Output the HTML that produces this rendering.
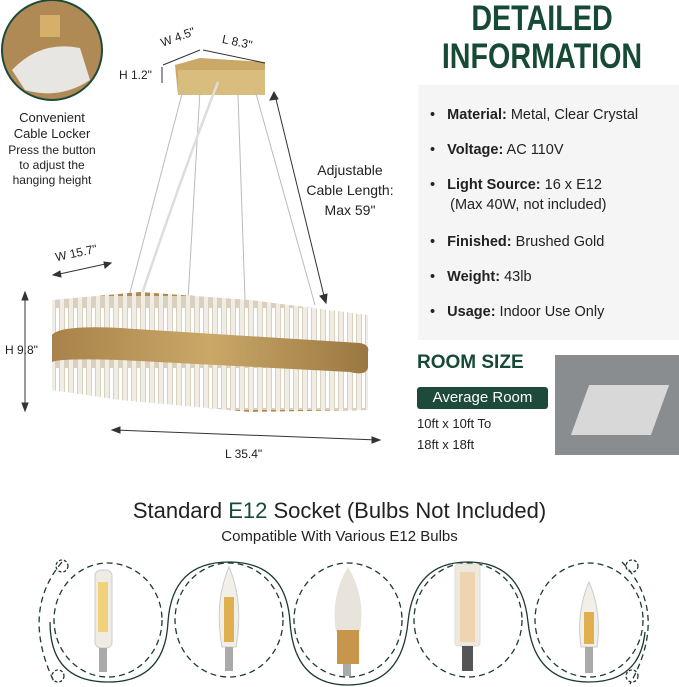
<!DOCTYPE html>
<html><head><meta charset="utf-8"><style>
body{margin:0;width:679px;height:687px;background:#fff;position:relative;overflow:hidden;font-family:"Liberation Sans",sans-serif;color:#222}
.a{position:absolute;white-space:nowrap}
.g{color:#174a36}
</style></head><body>
<svg class="a" style="left:0;top:0" width="679" height="687">
<defs><linearGradient id="gold" x1="0" x2="1"><stop offset="0" stop-color="#a8824a"/><stop offset=".5" stop-color="#c9a868"/><stop offset="1" stop-color="#9a7740"/></linearGradient>
<pattern id="cry" width="9" height="60" patternUnits="userSpaceOnUse"><rect width="9" height="60" fill="#f2ede4"/><rect x="1" y="0" width="5" height="60" fill="#d9d0c0"/><rect x="2" y="8" width="3" height="40" fill="#fff"/><rect x="1" y="50" width="5" height="6" fill="#b08a50"/></pattern></defs>
<circle cx="52" cy="50" r="50" fill="#b08a55" stroke="#1d4a3a" stroke-width="2"/>
<path d="M12 70 Q40 40 80 48 L90 80 Q60 100 25 90Z" fill="#e8e6e2"/>
<rect x="40" y="15" width="20" height="22" fill="#d6b06a"/>
<polygon points="175,65 200,58 265,62 265,95 178,95" fill="#c9a868"/>
<rect x="178" y="70" width="87" height="25" fill="#d9bd7e"/>
<g stroke="#bbb" stroke-width="1" fill="none">
<line x1="183" y1="90" x2="128" y2="300"/><line x1="200" y1="90" x2="188" y2="300"/>
<path d="M218 82 Q180 180 140 300" stroke="#ddd" stroke-width="2.5"/>
<line x1="238" y1="95" x2="245" y2="300"/><line x1="255" y1="90" x2="315" y2="305"/>
</g>
<path d="M52 300 L140 292 L250 300 L368 315 L368 410 L250 412 L120 400 L52 390Z" fill="url(#cry)"/>
<path d="M52 335 Q60 325 120 328 L360 343 Q370 345 368 352 L368 368 Q366 376 350 372 L120 360 Q60 358 52 362Z" fill="url(#gold)"/>
<g stroke="#333" stroke-width="1" fill="#333">
<line x1="25" y1="295" x2="25" y2="408"/><polygon points="22,300 25,292 28,300"/><polygon points="22,403 25,411 28,403"/>
<line x1="114" y1="430" x2="378" y2="440"/><polygon points="120,427 112,430 120,433"/><polygon points="372,437 380,440 372,443"/>
<line x1="55" y1="275" x2="110" y2="263"/><polygon points="60,271 53,275 61,277"/><polygon points="104,262 111,263 105,268"/>
<line x1="275" y1="95" x2="325" y2="300"/><polygon points="270,100 274,92 278,99"/><polygon points="320,296 326,303 327,294"/>
<line x1="163" y1="65" x2="200" y2="50"/><line x1="203" y1="50" x2="265" y2="63"/>
<line x1="162" y1="67" x2="162" y2="83"/>
</g>
</svg>
<div class="a" style="left:0;width:104px;text-align:center;font-size:13px;line-height:16px;top:110px"><b style="font-weight:500">Convenient<br>Cable Locker</b></div>
<div class="a" style="left:0;top:143px;width:104px;text-align:center;font-size:12px;line-height:15px">Press the button<br>to adjust the<br>hanging height</div>
<div class="a" style="left:160px;top:30px;font-size:12px;transform:rotate(-20deg)">W 4.5"</div>
<div class="a" style="left:222px;top:35px;font-size:12px;transform:rotate(12deg)">L 8.3"</div>
<div class="a" style="left:119px;top:68px;font-size:12px">H 1.2"</div>
<div class="a" style="left:300px;top:160px;font-size:14px;line-height:20px;text-align:center;width:100px">Adjustable<br>Cable Length:<br>Max 59"</div>
<div class="a" style="left:55px;top:246px;font-size:12px;transform:rotate(-12deg)">W 15.7"</div>
<div class="a" style="left:5px;top:343px;font-size:12px">H 9.8"</div>
<div class="a" style="left:225px;top:447px;font-size:12px">L 35.4"</div>
<div class="a g" style="left:414px;top:0;width:256px;text-align:center;font-size:35px;line-height:38px;font-weight:bold;transform:scaleX(.82)">DETAILED<br>INFORMATION</div>
<div class="a" style="left:418px;top:85px;width:261px;height:255px;background:#f5f5f5"></div>
<div class="a" style="left:430px;top:105px;font-size:14.5px;line-height:20px">
<div style="height:35px">•&nbsp;&nbsp;&nbsp;<b style="font-weight:600">Material:</b> Metal, Clear Crystal</div>
<div style="height:35px">•&nbsp;&nbsp;&nbsp;<b style="font-weight:600">Voltage:</b> AC 110V</div>
<div style="height:57px">•&nbsp;&nbsp;&nbsp;<b style="font-weight:600">Light Source:</b> 16 x E12<br>&nbsp;&nbsp;&nbsp;&nbsp;&nbsp;(Max 40W, not included)</div>
<div style="height:35px">•&nbsp;&nbsp;&nbsp;<b style="font-weight:600">Finished:</b> Brushed Gold</div>
<div style="height:35px">•&nbsp;&nbsp;&nbsp;<b style="font-weight:600">Weight:</b> 43lb</div>
<div>•&nbsp;&nbsp;&nbsp;<b style="font-weight:600">Usage:</b> Indoor Use Only</div>
</div>
<div class="a g" style="left:417px;top:352px;font-size:19px;font-weight:bold">ROOM SIZE</div>
<div class="a" style="left:417px;top:387px;width:131px;height:22px;background:#1d4a3a;color:#fff;font-size:15px;line-height:22px;text-align:center;border-radius:3px">Average Room</div>
<div class="a" style="left:417px;top:413px;font-size:13px;line-height:21px">10ft x 10ft To<br>18ft x 18ft</div>
<div class="a" style="left:555px;top:355px;width:124px;height:100px;background:#8a8d90"></div>
<div class="a" style="left:580px;top:385px;width:80px;height:50px;background:#d8d8d8;transform:skewX(-20deg)"></div>
<div class="a" style="left:0;top:498px;width:679px;text-align:center;font-size:22px">Standard <span class="g">E12</span> Socket (Bulbs Not Included)</div>
<div class="a" style="left:0;top:528px;width:679px;text-align:center;font-size:15px">Compatible With Various E12 Bulbs</div>
<svg class="a" style="left:0;top:552px" width="679" height="135">
<g fill="none" stroke="#1d3a32" stroke-width="1.3">
<path d="M50 70 Q50 130 108 130 Q165 130 168 70 Q172 10 229 10 Q286 10 290 70 Q294 133 348 133 Q402 133 408 70 Q414 10 468 10 Q522 10 528 70 Q534 130 589 130 Q640 130 645 80"/>
<g stroke-dasharray="6 4">
<ellipse cx="108" cy="68" rx="54" ry="57"/><ellipse cx="229" cy="68" rx="54" ry="57"/><ellipse cx="348" cy="68" rx="54" ry="57"/><ellipse cx="468" cy="68" rx="54" ry="57"/><ellipse cx="589" cy="68" rx="54" ry="57"/>
<path d="M62 10 Q20 60 55 132"/><path d="M622 10 Q670 60 630 132"/>
</g>
<circle cx="62" cy="14" r="6" stroke-dasharray="3 2"/><circle cx="58" cy="124" r="6" stroke-dasharray="3 2"/><circle cx="632" cy="14" r="6" stroke-dasharray="3 2"/><circle cx="632" cy="124" r="6" stroke-dasharray="3 2"/>
</g>
<rect x="95" y="18" width="17" height="78" rx="6" fill="#efece6" stroke="#ccc"/><rect x="98" y="30" width="10" height="50" fill="#f0d27a"/><rect x="99" y="96" width="8" height="24" fill="#aaa"/>
<path d="M229 15 Q244 50 236 95 L222 95 Q214 50 229 15Z" fill="#f2efe8" stroke="#ccc"/><rect x="224" y="45" width="10" height="45" fill="#e0b050"/><rect x="225" y="95" width="8" height="24" fill="#aaa"/>
<path d="M348 15 Q366 45 360 80 L336 80 Q330 45 348 15Z" fill="#e8e4dc"/><rect x="337" y="78" width="22" height="34" fill="#c7964a"/><rect x="343" y="112" width="8" height="12" fill="#aaa"/>
<rect x="455" y="12" width="25" height="82" rx="3" fill="#eee9df" stroke="#ddd"/><rect x="460" y="20" width="15" height="70" fill="#f0c890" opacity=".6"/><rect x="462" y="94" width="11" height="25" fill="#555"/>
<path d="M589 30 Q602 60 597 95 L581 95 Q576 60 589 30Z" fill="#f2efe8" stroke="#ccc"/><rect x="584" y="60" width="10" height="32" fill="#e0b050"/><rect x="585" y="95" width="8" height="26" fill="#aaa"/>
</svg>
</body></html>
